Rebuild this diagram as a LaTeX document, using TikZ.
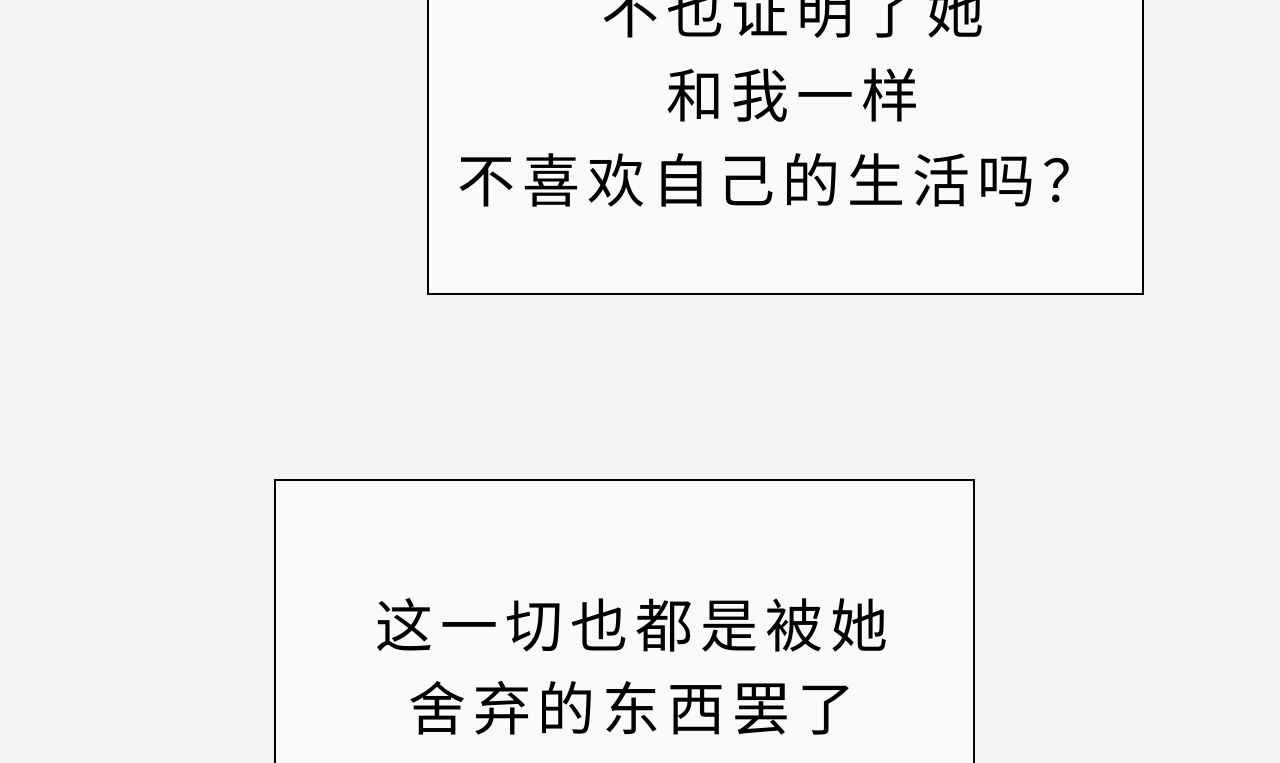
\documentclass[tikz,border=0pt]{standalone}
\usepackage{fontspec}
\newfontfamily\cjk[LetterSpace=12]{Noto Sans CJK SC}
\definecolor{bg}{HTML}{F3F3F3}
\tikzset{box/.style={draw=black,line width=2pt,fill=white!60!bg},
 txt/.style={font=\cjk\fontsize{58}{60}\selectfont,inner sep=0pt,anchor=center}}
\begin{document}
\begin{tikzpicture}[x=1pt,y=-1pt]
\useasboundingbox (0,0) rectangle (1280,763);
\clip (0,0) rectangle (1280,763);
\fill[bg] (0,0) rectangle (1280,763);
\draw[box] (428,-20) rectangle (1143,294);
\draw[box] (275,480) rectangle (974,800);
\node[txt] (t1) at (793,12) {不也证明了她};
\node[txt] (t2) at (793,95) {和我一样};
\node[txt] (t3) at (779,180) {不喜欢自己的生活吗？};
\node[txt] (b1) at (632,625) {这一切也都是被她};
\node[txt] (b2) at (632,708) {舍弃的东西罢了};
\end{tikzpicture}
\end{document}
